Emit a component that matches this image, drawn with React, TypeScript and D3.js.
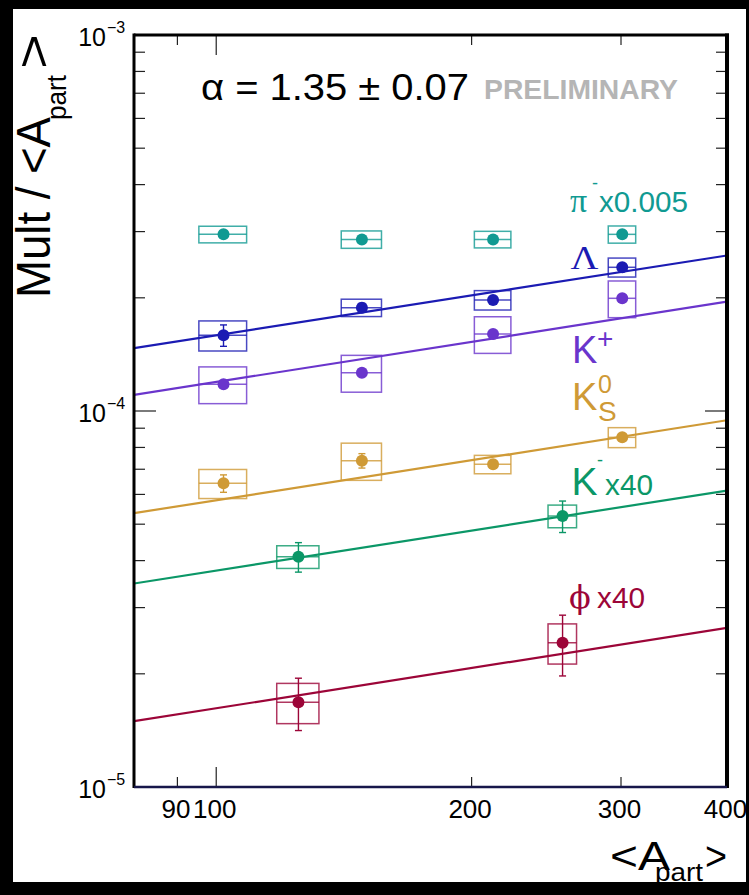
import React from "react";
import * as d3 from "d3";

const W = 749;
const H = 895;

// <A_part> values (x) and their half-widths (systematic box widths)
const apartMain = [102, 148.5, 212, 301];
const apartMainErr = [6.6, 8.1, 10.5, 11.2];
const apartKphi = [125, 256];
const apartKphiErr = [7.15, 9.9];

// Mult/<A_part> values
const piVals = [2.95e-4, 2.86e-4, 2.86e-4, 2.95e-4];
const piSys = [1.5e-5, 1.52e-5, 1.45e-5, 1.55e-5];
const piStat = [0, 0, 0, 0];

const lambdaVals = [1.59e-4, 1.883e-4, 1.973e-4, 2.411e-4];
const lambdaSys = [1.46e-5, 1.0e-5, 1.17e-5, 1.4e-5];
const lambdaStat = [1.04e-5, 0.5e-5, 0.3e-5, 0.3e-5];

const kplusVals = [1.178e-4, 1.264e-4, 1.602e-4, 1.994e-4];
const kplusSys = [1.32e-5, 1.42e-5, 1.79e-5, 2.23e-5];
const kplusStat = [0.2e-5, 0.2e-5, 0.2e-5, 0.2e-5];

const k0sVals = [6.42e-5, 7.376e-5, 7.215e-5, 8.51e-5];
const k0sSys = [0.57e-5, 0.836e-5, 0.406e-5, 0.52e-5];
const k0sStat = [0.342e-5, 0.325e-5, 0.1e-5, 0.1e-5];

const kminusVals = [4.097e-5, 5.256e-5];
const kminusSys = [0.284e-5, 0.364e-5];
const kminusStat = [0.369e-5, 0.505e-5];

const phiVals = [1.68e-5, 2.419e-5];
const phiSys = [0.206e-5, 0.296e-5];
const phiStat = [0.267e-5, 0.445e-5];

// Fit lines: values at the two ends of the x range
const fitX = [80, 400];
const lambdaFit = [1.469e-4, 2.592e-4];
const kplusFit = [1.104e-4, 1.953e-4];
const k0sFit = [5.35e-5, 9.45e-5];
const kminusFit = [3.477e-5, 6.145e-5];
const phiFit = [1.496e-5, 2.651e-5];

// Axis ticks
const xDomain = [80, 400];
const yDomain = [1e-5, 1e-3];
const xTickVals = [90, 100, 200, 300];
const xMajorTicks = [100];
const xLabelVals = [90, 100, 200, 300, 400];
const xLabelTexts = ["90", "100", "200", "300", "400"];
const yLabelVals = [1e-3, 1e-4, 1e-5];
const yLabelExp = ["\u22123", "\u22124", "\u22125"];

const COLORS = {
  pi: "#109a92",
  lambda: "#1b1bb3",
  kplus: "#6a35cc",
  k0s: "#cf9a36",
  kminus: "#0b9767",
  phi: "#9c0538",
};

type Series = {
  name: string;
  color: string;
  x: number[];
  xe: number[];
  v: number[];
  sys: number[];
  stat: number[];
  fit?: number[];
};

const series: Series[] = [
  { name: "pi", color: COLORS.pi, x: apartMain, xe: apartMainErr, v: piVals, sys: piSys, stat: piStat },
  { name: "lambda", color: COLORS.lambda, x: apartMain, xe: apartMainErr, v: lambdaVals, sys: lambdaSys, stat: lambdaStat, fit: lambdaFit },
  { name: "kplus", color: COLORS.kplus, x: apartMain, xe: apartMainErr, v: kplusVals, sys: kplusSys, stat: kplusStat, fit: kplusFit },
  { name: "k0s", color: COLORS.k0s, x: apartMain, xe: apartMainErr, v: k0sVals, sys: k0sSys, stat: k0sStat, fit: k0sFit },
  { name: "kminus", color: COLORS.kminus, x: apartKphi, xe: apartKphiErr, v: kminusVals, sys: kminusSys, stat: kminusStat, fit: kminusFit },
  { name: "phi", color: COLORS.phi, x: apartKphi, xe: apartKphiErr, v: phiVals, sys: phiSys, stat: phiStat, fit: phiFit },
];

const L = 134, R = 727, T = 35, B = 787;
const SANS = "'Liberation Sans', Arial, Helvetica, sans-serif";
const SERIF = "'Liberation Serif', 'Times New Roman', serif";

export default function App() {
  const x = d3.scaleLog().domain(xDomain).range([L, R]);
  const y = d3.scaleLog().domain(yDomain).range([B, T]);
  const yTicks = y.ticks();
  const isMajorY = (v: number) => Math.abs(Math.log10(v) - Math.round(Math.log10(v))) < 1e-6;

  return (
    <svg
      width={W}
      height={H}
      style={{ position: "absolute", left: 0, top: 0, display: "block" }}
      xmlns="http://www.w3.org/2000/svg"
    >
      <rect x={0} y={0} width={W} height={H} fill="#000" />
      <rect x={13} y={9} width={733} height={873} fill="#fff" />
      <defs>
        <clipPath id="plotclip">
          <rect x={L} y={T} width={R - L} height={B - T} />
        </clipPath>
      </defs>

      {/* systematic boxes */}
      {series.map((s) =>
        s.v.map((v, i) => {
          const x0 = x(s.x[i] - s.xe[i]);
          const x1 = x(s.x[i] + s.xe[i]);
          const y0 = y(v + s.sys[i]);
          const y1 = y(v - s.sys[i]);
          return (
            <g key={`box-${s.name}-${i}`} stroke={s.color} strokeOpacity={0.8} fill="none" strokeWidth={1.5}>
              <rect x={x0} y={y0} width={x1 - x0} height={y1 - y0} />
              <line x1={x0} x2={x1} y1={y(v)} y2={y(v)} />
            </g>
          );
        })
      )}

      {/* fit lines */}
      <g clipPath="url(#plotclip)">
        {series
          .filter((s) => s.fit)
          .map((s) => (
            <line
              key={`fit-${s.name}`}
              x1={x(fitX[0])}
              x2={x(fitX[1])}
              y1={y(s.fit![0])}
              y2={y(s.fit![1])}
              stroke={s.color}
              strokeWidth={2.2}
            />
          ))}
      </g>

      {/* stat error bars and points */}
      {series.map((s) =>
        s.v.map((v, i) => {
          const cx = x(s.x[i]);
          const st = s.stat[i];
          return (
            <g key={`pt-${s.name}-${i}`} stroke={s.color} strokeWidth={1.4}>
              {st > 0 && (
                <>
                  <line x1={cx} x2={cx} y1={y(v + st)} y2={y(v - st)} />
                  <line x1={cx - 3.5} x2={cx + 3.5} y1={y(v + st)} y2={y(v + st)} />
                  <line x1={cx - 3.5} x2={cx + 3.5} y1={y(v - st)} y2={y(v - st)} />
                </>
              )}
              <circle cx={cx} cy={y(v)} r={6} fill={s.color} stroke="none" />
            </g>
          );
        })
      )}

      {/* y ticks (left and right, inward) */}
      {yTicks.map((t, i) => {
        const len = isMajorY(t) ? 22 : 11;
        const yy = y(t);
        if (yy < T + 0.5 || yy > B - 0.5) return null;
        return (
          <g key={`yt-${i}`} stroke="#222" strokeWidth={1.2}>
            <line x1={L} x2={L + len} y1={yy} y2={yy} />
            <line x1={R} x2={R - len} y1={yy} y2={yy} />
          </g>
        );
      })}

      {/* x ticks (top and bottom, inward) */}
      {xTickVals.map((t, i) => {
        const len = xMajorTicks.includes(t) ? 20 : 10;
        const xx = x(t);
        return (
          <g key={`xt-${i}`} stroke="#222" strokeWidth={1.2}>
            <line x1={xx} x2={xx} y1={B} y2={B - len} />
            <line x1={xx} x2={xx} y1={T} y2={T + len} />
          </g>
        );
      })}

      {/* frame */}
      <line x1={L} x2={R + 2} y1={T} y2={T} stroke="#000" strokeWidth={3} />
      <line x1={L} x2={L} y1={T - 1.5} y2={B + 1} stroke="#000" strokeWidth={3} />
      <line x1={R} x2={R} y1={T - 1.5} y2={B + 1} stroke="#000" strokeWidth={4} />
      <line x1={L} x2={R} y1={B} y2={B} stroke="#17174a" strokeWidth={2.5} />

      {/* x tick labels */}
      {xLabelVals.map((t, i) => (
        <text
          key={`xl-${i}`}
          x={x(t) - 1.5}
          y={818}
          fontFamily={SANS}
          fontSize={26}
          textAnchor="middle"
          fill="#000"
        >
          {xLabelTexts[i]}
        </text>
      ))}

      {/* y tick labels */}
      {yLabelVals.map((t, i) => (
        <g key={`yl-${i}`} fontFamily={SANS} fill="#000">
          <text x={106} y={y(t) + 11} fontSize={25} textAnchor="end">
            10
          </text>
          <text x={107} y={y(t) - 2} fontSize={16}>
            {yLabelExp[i]}
          </text>
        </g>
      ))}

      {/* axis titles */}
      <g transform="translate(50,298) rotate(-90)" fontFamily={SANS} fill="#000">
        <text x={0} y={0} fontSize={48} textLength={181} lengthAdjust="spacingAndGlyphs">
          Mult / &lt;A
        </text>
        <text x={178} y={16} fontSize={27} textLength={45} lengthAdjust="spacingAndGlyphs">
          part
        </text>
        <text x={229} y={0} fontSize={48} textLength={35} lengthAdjust="spacingAndGlyphs">
          &gt;
        </text>
      </g>
      <g fontFamily={SANS} fill="#000">
        <text x={610} y={870} fontSize={40} textLength={60} lengthAdjust="spacingAndGlyphs">
          &lt;A
        </text>
        <text x={655} y={881} fontSize={26} textLength={48} lengthAdjust="spacingAndGlyphs">
          part
        </text>
        <text x={705} y={870} fontSize={40} textLength={22} lengthAdjust="spacingAndGlyphs">
          &gt;
        </text>
      </g>

      {/* annotation */}
      <text x={201} y={100} fontFamily={SANS} fontSize={37} fill="#000" textLength={268} lengthAdjust="spacingAndGlyphs">
        α = 1.35 ± 0.07
      </text>
      <text x={484} y={99} fontFamily={SANS} fontWeight="bold" fontSize={28} fill="#b5b5b5" textLength={194} lengthAdjust="spacingAndGlyphs">
        PRELIMINARY
      </text>

      {/* species labels */}
      <g fill={COLORS.pi}>
        <text x={570} y={212} fontFamily={SERIF} fontSize={34}>π</text>
        <text x={592} y={189} fontFamily={SANS} fontSize={18}>-</text>
        <text x={599} y={212} fontFamily={SANS} fontSize={29} textLength={89} lengthAdjust="spacingAndGlyphs">x0.005</text>
      </g>
      <text x={570.5} y={269} fontFamily={SERIF} fontSize={33} fill={COLORS.lambda} textLength={28} lengthAdjust="spacingAndGlyphs">
        Λ
      </text>
      <g fill={COLORS.kplus} fontFamily={SANS}>
        <text x={572} y={362.7} fontSize={38}>K</text>
        <text x={597} y={348} fontSize={28}>+</text>
      </g>
      <g fill={COLORS.k0s} fontFamily={SANS}>
        <text x={572} y={410} fontSize={38}>K</text>
        <text x={598} y={393} fontSize={25}>0</text>
        <text x={598} y={421} fontSize={28}>S</text>
      </g>
      <g fill={COLORS.kminus} fontFamily={SANS}>
        <text x={571.5} y={495.3} fontSize={39}>K</text>
        <text x={597} y={466} fontSize={18}>-</text>
        <text x={605} y={495.3} fontSize={30} textLength={48} lengthAdjust="spacingAndGlyphs">x40</text>
      </g>
      <g fill={COLORS.phi}>
        <text x={569} y={608.3} fontFamily={"'DejaVu Serif', serif"} fontSize={32}>ϕ</text>
        <text x={597} y={608.3} fontFamily={SANS} fontSize={29} textLength={48} lengthAdjust="spacingAndGlyphs">x40</text>
      </g>
    </svg>
  );
}
